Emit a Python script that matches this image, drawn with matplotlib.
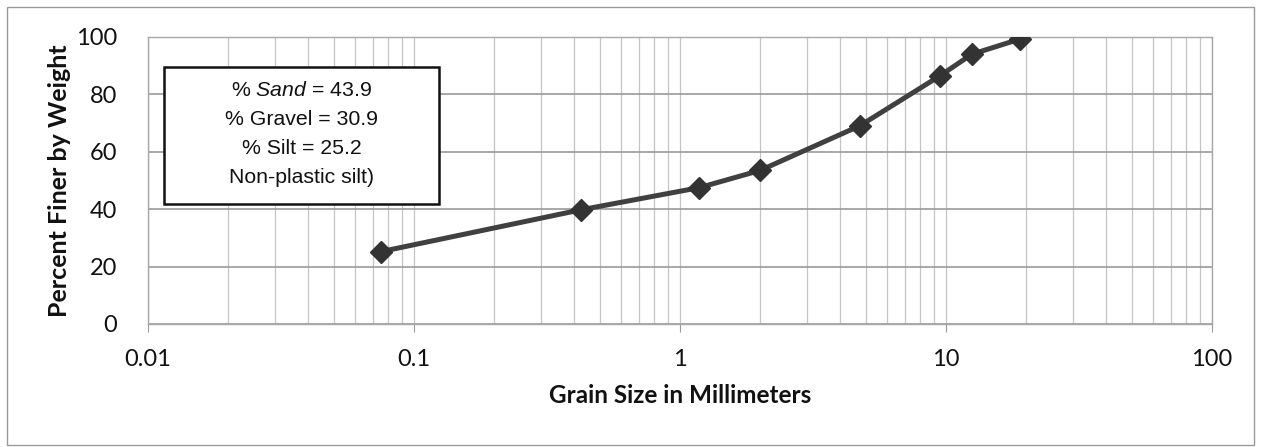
import numpy as np
import matplotlib
matplotlib.use("Agg")
import matplotlib.pyplot as plt
from matplotlib.patches import Rectangle
from matplotlib.ticker import LogLocator, FixedLocator, NullFormatter

# sieve data: grain size (mm) vs percent passing
grain_mm = [0.075, 0.425, 1.18, 2.0, 4.75, 9.5, 12.5, 19.0]
pct_finer = [25.2, 39.8, 47.5, 53.5, 69.1, 86.5, 94.0, 99.3]

x_ticks = [0.01, 0.1, 1, 10, 100]
x_labels = ["0.01", "0.1", "1", "10", "100"]
y_ticks = [0, 20, 40, 60, 80, 100]

box_lines = ["% $\\mathit{Sand}$ = 43.9", "% Gravel = 30.9", "% Silt = 25.2", "Non-plastic silt)"]

plt.rcParams['mathtext.fontset'] = 'custom'
plt.rcParams['mathtext.rm'] = 'Liberation Sans'
plt.rcParams['mathtext.it'] = 'Liberation Sans:italic'

W, H = 1261, 447
fig = plt.figure(figsize=(W / 100, H / 100), dpi=100)
ax = fig.add_axes([148 / W, 1 - 324 / H, (1212 - 148) / W, (324 - 37) / H])

ax.plot(grain_mm, pct_finer, color="#404040", lw=3.6, marker="D", ms=11,
        mfc="#333333", mec="#333333", zorder=5)

ax.set_xscale("log")
ax.set_xlim(0.01, 100)
ax.set_ylim(0, 100)
ax.xaxis.set_major_locator(FixedLocator(x_ticks))
ax.set_xticklabels(x_labels)
ax.xaxis.set_minor_locator(LogLocator(base=10, subs=np.arange(2, 10)))
ax.xaxis.set_minor_formatter(NullFormatter())
ax.set_yticks(y_ticks)

ax.grid(True, which="major", axis="y", color="#9a9a9a", lw=1.2)
ax.grid(True, which="both", axis="x", color="#c4c4c4", lw=0.9)
for s in ax.spines.values():
    s.set_color("#a8a8a8")
    s.set_linewidth(1.0)

ax.tick_params(axis="x", which="major", length=6, color="#999999", pad=12,
               labelsize=17)
ax.tick_params(axis="x", which="minor", length=0)
ax.tick_params(axis="y", length=0, pad=22, labelsize=17)
for lab in ax.get_xticklabels() + ax.get_yticklabels():
    lab.set_fontfamily("Lato")
    lab.set_color("#111111")

ax.set_xlabel("Grain Size in Millimeters", fontfamily="Lato", fontweight="bold",
              fontsize=17.5, color="#111111", labelpad=10)
ax.set_ylabel("Percent Finer by Weight", fontfamily="Lato", fontweight="bold",
              fontsize=18, color="#111111", labelpad=4)

# annotation box
fig.patches.append(Rectangle((164 / W, 1 - 204 / H), (439 - 164) / W, (204 - 67) / H,
                             transform=fig.transFigure, fill=True, fc="white",
                             ec="#111111", lw=1.8, zorder=10))
for i, line in enumerate(box_lines):
    fig.text(301.5 / W, 1 - (91 + 28.7 * i) / H, line, ha="center", va="center",
             fontfamily="Liberation Sans", fontsize=15.3, color="#111111", zorder=11)

# outer chart border
fig.patches.append(Rectangle((7 / W, 2 / H), (W - 14) / W, (H - 9) / H,
                             transform=fig.transFigure, fill=False,
                             ec="#9a9a9a", lw=1.0))

fig.savefig("out.png", dpi=100)
